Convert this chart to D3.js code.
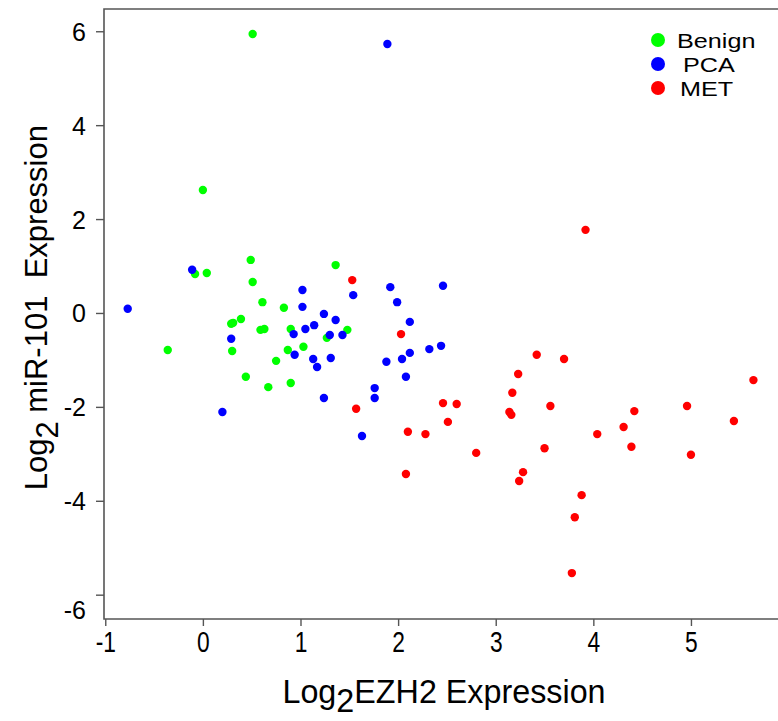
<!DOCTYPE html>
<html>
<head>
<meta charset="utf-8">
<script src="https://cdn.jsdelivr.net/npm/d3@7"></script>
<style>
  html, body { margin: 0; padding: 0; background: #fff; }
  svg { display: block; }
  text { font-family: "Liberation Sans", Arial, sans-serif; fill: #000; }
</style>
</head>
<body>
<svg id="chart" width="778" height="721"></svg>
<script>
// ---- Data ----
const seriesNames = ["Benign", "PCA", "MET"];
const seriesColors = ["#00ff00", "#0000ff", "#ff0000"];

const benignX = [0.51, 0.00, 0.49, 1.36, 0.51, -0.08, 0.04, 0.61, 0.83, 0.39, 0.29, 0.31, 0.90, 0.59, 0.63, 1.48, 1.27, -0.36, 0.30, 0.87, 1.03, 0.75, 0.44, 0.67, 0.90];
const benignY = [5.94, 2.62, 1.13, 1.02, 0.66, 0.83, 0.85, 0.23, 0.11, -0.13, -0.23, -0.21, -0.34, -0.36, -0.34, -0.36, -0.53, -0.79, -0.81, -0.79, -0.72, -1.02, -1.36, -1.58, -1.49];

const pcaX = [1.89, -0.11, -0.77, 1.02, 1.54, 1.02, 1.24, 1.36, 1.14, 1.05, 0.93, 1.30, 1.43, 0.29, 0.94, 1.13, 1.31, 1.17, 1.24, 1.76, 1.76, 1.63, 1.92, 2.46, 1.99, 2.12, 2.32, 2.44, 2.12, 2.04, 1.88, 2.08, 0.20];
const pcaY = [5.73, 0.92, 0.09, 0.49, 0.38, 0.13, -0.02, -0.15, -0.26, -0.34, -0.45, -0.47, -0.47, -0.55, -0.89, -0.98, -0.96, -1.15, -1.81, -1.60, -1.81, -2.62, 0.55, 0.58, 0.23, -0.19, -0.77, -0.70, -0.85, -0.98, -1.04, -1.36, -2.11];

const metX = [3.92, 1.53, 2.03, 3.42, 3.70, 3.23, 3.17, 5.64, 1.57, 2.46, 2.60, 2.51, 2.10, 2.28, 3.14, 3.16, 3.56, 4.96, 4.42, 4.31, 5.44, 4.04, 2.80, 3.50, 4.39, 5.00, 2.08, 3.28, 3.24, 3.88, 3.81, 3.78];
const metY = [1.77, 0.70, -0.45, -0.89, -0.98, -1.30, -1.70, -1.43, -2.04, -1.92, -1.94, -2.32, -2.53, -2.58, -2.11, -2.17, -1.98, -1.98, -2.09, -2.43, -2.30, -2.58, -2.98, -2.88, -2.85, -3.02, -3.43, -3.39, -3.58, -3.88, -4.35, -5.54];

const xTicks = [-1, 0, 1, 2, 3, 4, 5];
const yTicks = [6, 4, 2, 0, -2, -4, -6];

// ---- Layout ----
const svg = d3.select("#chart");
const plotL = 104, plotR = 779, plotT = 9, plotB = 619;

const x = d3.scaleLinear().domain([-1.013, 5.902]).range([plotL, plotR]);
const y = d3.scaleLinear().domain([-6.518, 6.474]).range([plotB, plotT]);
const fmt = d => String(d);

// frame (top, left, bottom)
svg.append("path")
  .attr("d", `M${plotR},${plotT}H${plotL}V${plotB}H${plotR}`)
  .attr("fill", "none").attr("stroke", "#555").attr("stroke-width", 1.6);

// y axis
const yAxis = svg.append("g")
  .attr("transform", `translate(${plotL},0)`)
  .call(d3.axisLeft(y).tickValues(yTicks).tickFormat(fmt).tickSize(8).tickSizeOuter(0).tickPadding(10));
yAxis.select(".domain").remove();
yAxis.selectAll(".tick line").attr("stroke", "#555").attr("stroke-width", 1.4);
yAxis.selectAll(".tick text")
  .style("font-size", "25px")
  .style("font-family", "'Liberation Sans', Arial, sans-serif")
  .attr("fill", "#000")
  .attr("dy", d => d === -6 ? "0.95em" : "0.36em");

// x axis
const xAxis = svg.append("g")
  .attr("transform", `translate(0,${plotB})`)
  .call(d3.axisBottom(x).tickValues(xTicks).tickFormat(fmt).tickSize(7).tickSizeOuter(0).tickPadding(0));
xAxis.select(".domain").remove();
xAxis.selectAll(".tick line").attr("stroke", "#555").attr("stroke-width", 1.4);
xAxis.selectAll(".tick text")
  .attr("y", 0).attr("dy", 0)
  .style("font-size", "30px")
  .style("font-family", "'Liberation Sans', Arial, sans-serif")
  .attr("fill", "#000")
  .attr("transform", "translate(0,33) scale(0.76,1)");

// points
const groups = [
  { name: seriesNames[0], color: seriesColors[0], xs: benignX, ys: benignY },
  { name: seriesNames[1], color: seriesColors[1], xs: pcaX, ys: pcaY },
  { name: seriesNames[2], color: seriesColors[2], xs: metX, ys: metY }
];
groups.forEach(g => {
  svg.append("g").selectAll("circle")
    .data(g.xs.map((v, i) => [v, g.ys[i]]))
    .join("circle")
    .attr("cx", d => x(d[0]))
    .attr("cy", d => y(d[1]))
    .attr("r", 4.2)
    .attr("fill", g.color);
});

// legend
const legend = svg.append("g");
const legY = [40, 64, 88];
const legTx = [677, 683, 680];
groups.forEach((g, i) => {
  legend.append("circle").attr("cx", 658).attr("cy", legY[i]).attr("r", 7).attr("fill", g.color);
  legend.append("text").attr("x", legTx[i]).attr("y", legY[i]).attr("dy", "0.36em")
    .style("font-size", "21px")
    .attr("transform", `translate(${legTx[i]},0) scale(1.2,1) translate(${-legTx[i]},0)`)
    .text(g.name);
});

// x title
const xt = svg.append("text")
  .attr("transform", "translate(444,703) scale(0.95,1)")
  .attr("text-anchor", "middle")
  .style("font-size", "34px");
xt.append("tspan").text("Log");
xt.append("tspan").attr("dy", 9).text("2");
xt.append("tspan").attr("dy", -9).text("EZH2 Expression");

// y title
const yt = svg.append("text")
  .attr("transform", "translate(47,125) rotate(-90)")
  .attr("text-anchor", "end")
  .style("font-size", "31px")
  .attr("xml:space", "preserve");
yt.append("tspan").text("Log");
yt.append("tspan").attr("dy", 11).text("2");
yt.append("tspan").attr("dy", -11).text(" miR-101\u00a0 Expression");
</script>
</body>
</html>
